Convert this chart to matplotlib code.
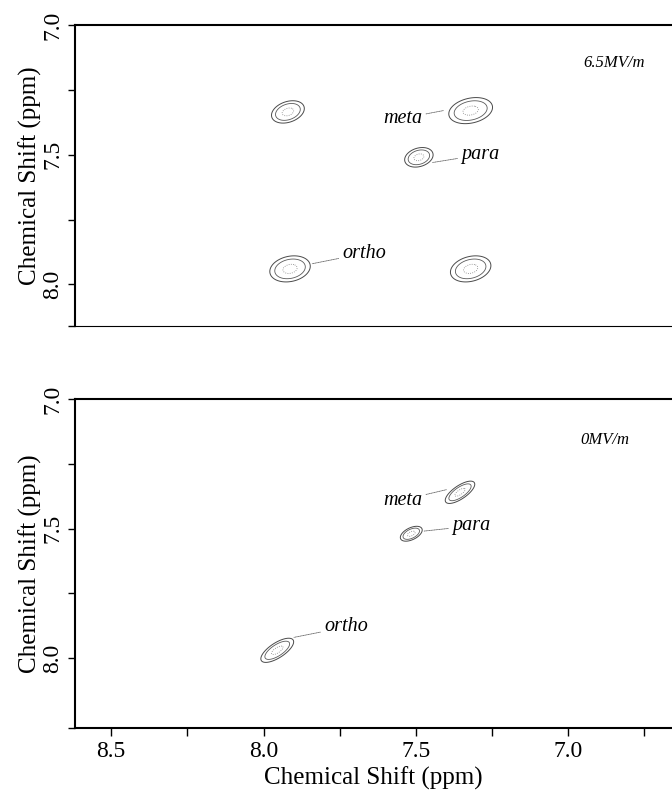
import matplotlib
matplotlib.use("Agg")
import matplotlib.pyplot as plt
import numpy as np

plt.rcParams["font.family"] = ["Liberation Serif", "DejaVu Serif"]

# peak centres (x ppm, y ppm) and widths (sigma x, sigma y, correlation)
top_x = [7.92, 7.32, 7.49, 7.913, 7.32]
top_y = [7.335, 7.33, 7.51, 7.94, 7.94]
top_sx = [0.030, 0.040, 0.026, 0.037, 0.037]
top_sy = [0.024, 0.028, 0.021, 0.028, 0.028]
top_rho = [0.3, 0.25, 0.25, 0.2, 0.25]

bot_x = [7.355, 7.515, 7.955]
bot_y = [7.36, 7.52, 7.97]
bot_sx = [0.027, 0.020, 0.030]
bot_sy = [0.024, 0.016, 0.026]
bot_rho = [0.72, 0.5, 0.7]

# labels: name, text position, pointer position
label_names = ["meta", "para", "ortho"]
top_text_xy = [(7.48, 7.36), (7.35, 7.50), (7.74, 7.88)]
top_point_xy = [(7.41, 7.33), (7.445, 7.53), (7.84, 7.92)]
bot_text_xy = [(7.48, 7.39), (7.38, 7.49), (7.80, 7.88)]
bot_point_xy = [(7.40, 7.35), (7.475, 7.51), (7.90, 7.92)]
label_align = ["right", "left", "left"]

field_labels = ["6.5MV/m", "0MV/m"]
field_xy = [(6.85, 7.146), (6.88, 7.16)]

xlim = (8.619, 6.659)
ylims = [(8.16, 7.0), (8.27, 7.0)]


def surface(X, Y, xs, ys, sxs, sys_, rhos):
    Z = np.zeros_like(X)
    for x0, y0, sx, sy, r in zip(xs, ys, sxs, sys_, rhos):
        u = (X - x0) / sx
        v = (Y - y0) / sy
        Z = np.maximum(Z, np.exp(-(u * u - 2 * r * u * v + v * v) / (2 * (1 - r * r))))
    return Z


def draw_panel(ax, xs, ys, sxs, sys_, rhos, text_xy, point_xy, field, fxy, ylim):
    gx = np.linspace(xlim[1], xlim[0], 800)
    gy = np.linspace(ylim[1], ylim[0], 600)
    X, Y = np.meshgrid(gx, gy)
    Z = surface(X, Y, xs, ys, sxs, sys_, rhos)
    ax.contour(X, Y, Z, levels=[0.2], colors="#4a4a4a", linewidths=0.7)
    ax.contour(X, Y, Z, levels=[0.4], colors="#5a5a5a", linewidths=0.6)
    ax.contour(X, Y, Z, levels=[0.82], colors="#808080", linewidths=0.6, linestyles="dotted")

    for name, txy, pxy, ha in zip(label_names, text_xy, point_xy, label_align):
        ax.annotate(name, xy=pxy, xytext=txy, ha=ha, va="center",
                    fontsize=14.5, style="italic",
                    arrowprops=dict(arrowstyle="-", lw=0.6, color="#666666",
                                    linestyle=(0, (1, 1)), shrinkA=1, shrinkB=0))
    ax.text(fxy[0], fxy[1], field, fontsize=12, style="italic", ha="center", va="center")

    ax.set_xlim(*xlim)
    ax.set_ylim(*ylim)
    ax.set_yticks([7.0, 7.5, 8.0])
    ax.set_yticks([7.25, 7.75, ylim[0]], minor=True)
    ax.set_yticklabels(["7.0", "7.5", "8.0"], rotation=90, va="center", fontsize=17)
    ax.tick_params(axis="y", which="both", direction="out", length=5, width=1)
    ax.set_ylabel("Chemical Shift (ppm)", fontsize=18, labelpad=0)
    ax.spines["right"].set_visible(False)
    for s in ["top", "left", "bottom"]:
        ax.spines[s].set_linewidth(1.5)


fig = plt.figure(figsize=(6.72, 7.96), dpi=100)
ax1 = fig.add_axes([0.1116, 0.5905, 0.8884, 0.3781])
ax2 = fig.add_axes([0.1116, 0.0854, 0.8884, 0.4133])

draw_panel(ax1, top_x, top_y, top_sx, top_sy, top_rho, top_text_xy, top_point_xy,
           field_labels[0], field_xy[0], ylims[0])
draw_panel(ax2, bot_x, bot_y, bot_sx, bot_sy, bot_rho, bot_text_xy, bot_point_xy,
           field_labels[1], field_xy[1], ylims[1])

ax1.set_xticks([])
ax1.spines["bottom"].set_linewidth(0.8)

ax2.set_xticks([8.5, 8.0, 7.5, 7.0])
ax2.set_xticks([8.25, 7.75, 7.25, 6.75], minor=True)
ax2.set_xticklabels(["8.5", "8.0", "7.5", "7.0"], fontsize=17)
ax2.tick_params(axis="x", which="both", direction="out", length=6, width=1)
ax2.set_xlabel("Chemical Shift (ppm)", fontsize=18, labelpad=3)

fig.savefig("out.png", dpi=100)
